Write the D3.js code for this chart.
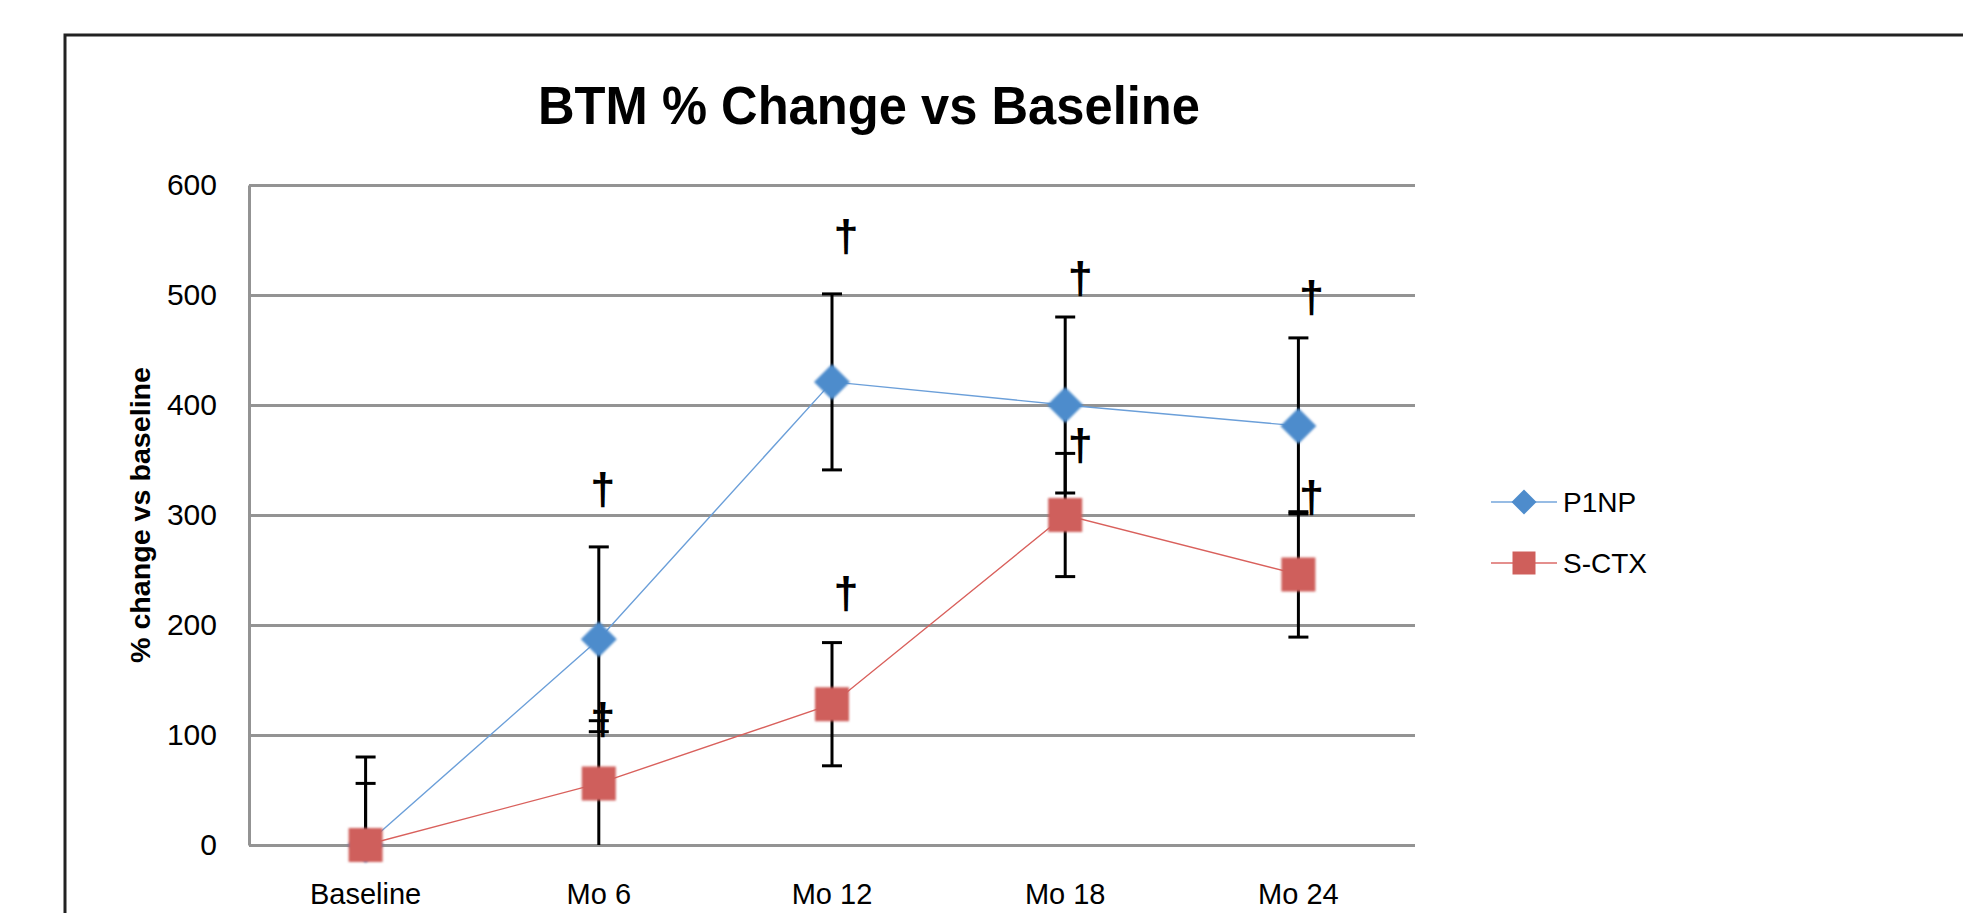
<!DOCTYPE html>
<html>
<head>
<meta charset="utf-8">
<script src="https://cdn.jsdelivr.net/npm/d3@7"></script>
<style>
    body { margin: 0; background: #fff; }
    text { font-family: "Liberation Sans", Arial, sans-serif; fill: #000; }
</style>
</head>
<body>
<div class="chart"></div>
<script>
// categories and series
const categories = ["Baseline", "Mo 6", "Mo 12", "Mo 18", "Mo 24"];
const p1np = [0, 187, 421, 400, 381];
const p1npErr = [80, 84, 80, 80, 80];
const sctx = [0, 56, 128, 300, 246];
const sctxErr = [56, 57, 56, 56, 57];
const yTicks = [0, 100, 200, 300, 400, 500, 600];

// dagger marks (significance), value where the mark sits
const p1npDagger = [null, 322, 552, 514, 497];
const sctxDagger = [null, 113, 228, 362, 315];

const width = 1963;
const height = 913;
const plotLeft = 249, plotRight = 1415, plotTop = 185, plotBottom = 845;
const daggerDx = [0, 4, 14, 15, 13];

const svg = d3.select('.chart')
    .append('svg')
    .attr('width', width)
    .attr('height', height);

const defs = svg.append('defs');
defs.append('filter')
    .attr('id', 'soft')
    .attr('x', '-30%').attr('y', '-30%')
    .attr('width', '160%').attr('height', '160%')
    .append('feGaussianBlur')
    .attr('stdDeviation', 1.1);

// outer frame (runs off the right and bottom edge)
svg.append('rect')
    .attr('x', 65)
    .attr('y', 35)
    .attr('width', 2000)
    .attr('height', 1000)
    .attr('fill', 'none')
    .attr('stroke', '#222')
    .attr('stroke-width', 3);

svg.append('text')
    .attr('x', 869)
    .attr('y', 124)
    .attr('text-anchor', 'middle')
    .attr('font-size', '53px')
    .attr('font-weight', 'bold')
    .attr('textLength', 662)
    .attr('lengthAdjust', 'spacingAndGlyphs')
    .text('BTM % Change vs Baseline');

const x = d3.scaleBand().domain(categories).range([plotLeft, plotRight]);
const y = d3.scaleLinear().domain([0, 600]).range([plotBottom, plotTop]);
const cx = c => x(c) + x.bandwidth() / 2;

// y axis with gridlines
const yAxis = svg.append('g')
    .attr('transform', `translate(${plotLeft},0)`)
    .call(d3.axisLeft(y)
        .tickValues(yTicks)
        .tickSizeInner(-(plotRight - plotLeft))
        .tickSizeOuter(0)
        .tickPadding(32));
yAxis.select('.domain').attr('stroke', '#939393').attr('stroke-width', 3);
yAxis.selectAll('.tick line').attr('stroke', '#939393').attr('stroke-width', 3);
yAxis.selectAll('.tick text')
    .attr('font-size', '30px')
    .attr('font-family', '"Liberation Sans", Arial, sans-serif')
    .attr('fill', '#000');

// x axis labels
const xAxis = svg.append('g')
    .attr('transform', `translate(0,${plotBottom})`)
    .call(d3.axisBottom(x).tickSize(0).tickPadding(38));
xAxis.select('.domain').remove();
xAxis.selectAll('.tick text')
    .attr('font-size', '29px')
    .attr('font-family', '"Liberation Sans", Arial, sans-serif')
    .attr('fill', '#000');

svg.append('text')
    .attr('transform', 'translate(150,515) rotate(-90)')
    .attr('text-anchor', 'middle')
    .attr('font-size', '27px')
    .attr('font-weight', 'bold')
    .attr('textLength', 296)
    .attr('lengthAdjust', 'spacingAndGlyphs')
    .text('% change vs baseline');

const series = [
    { name: 'P1NP', values: p1np, errs: p1npErr, daggers: p1npDagger, line: '#6b9fd9', fill: '#4e8ccc', shape: 'diamond' },
    { name: 'S-CTX', values: sctx, errs: sctxErr, daggers: sctxDagger, line: '#d9605c', fill: '#cf5f5b', shape: 'square' }
];

const markerPath = (shape, s) => {
    if (shape === 'diamond') return `M0,${-s / 2}L${s / 2},0L0,${s / 2}L${-s / 2},0Z`;
    return `M${-s / 2},${-s / 2}h${s}v${s}h${-s}Z`;
};

series.forEach(function (ser) {
    const pts = categories.map((c, i) => ({ c: c, v: ser.values[i], e: ser.errs[i], i: i }));
    const g = svg.append('g');

    g.append('path')
        .datum(pts)
        .attr('fill', 'none')
        .attr('stroke', ser.line)
        .attr('stroke-width', 1.4)
        .attr('d', d3.line().x(d => cx(d.c)).y(d => y(d.v)));

    // error bars, clipped at the 0 line
    const eb = g.selectAll('.err')
        .data(pts)
        .enter()
        .append('g');
    eb.append('line')
        .attr('x1', d => cx(d.c)).attr('x2', d => cx(d.c))
        .attr('y1', d => y(Math.max(0, d.v - d.e)))
        .attr('y2', d => y(d.v + d.e))
        .attr('stroke', '#000').attr('stroke-width', 3);
    eb.append('line')
        .attr('x1', d => cx(d.c) - 10).attr('x2', d => cx(d.c) + 10)
        .attr('y1', d => y(d.v + d.e)).attr('y2', d => y(d.v + d.e))
        .attr('stroke', '#000').attr('stroke-width', 3);
    eb.filter(d => d.v - d.e > 0)
        .append('line')
        .attr('x1', d => cx(d.c) - 10).attr('x2', d => cx(d.c) + 10)
        .attr('y1', d => y(d.v - d.e)).attr('y2', d => y(d.v - d.e))
        .attr('stroke', '#000').attr('stroke-width', 3);

    g.selectAll('.mark')
        .data(pts)
        .enter()
        .append('path')
        .attr('transform', d => `translate(${cx(d.c)},${y(d.v)})`)
        .attr('d', markerPath(ser.shape, ser.shape === 'diamond' ? 36 : 34))
        .attr('fill', ser.fill)
        .attr('filter', 'url(#soft)');

    g.selectAll('.dagger')
        .data(pts.filter(d => ser.daggers[d.i] != null))
        .enter()
        .append('text')
        .attr('x', d => cx(d.c) + daggerDx[d.i])
        .attr('y', d => y(ser.daggers[d.i]))
        .attr('dy', '0.3em')
        .attr('text-anchor', 'middle')
        .attr('font-size', '45px')
        .attr('font-weight', 'bold')
        .text('\u2020');
});

// legend
const legend = svg.selectAll('.legend')
    .data(series)
    .enter()
    .append('g')
    .attr('transform', (d, i) => `translate(1491,${502 + i * 61})`);
legend.append('line')
    .attr('x1', 0).attr('x2', 66)
    .attr('stroke', d => d.line)
    .attr('stroke-width', 2)
    .attr('stroke-opacity', 0.7);
legend.append('path')
    .attr('transform', 'translate(33,0)')
    .attr('d', d => markerPath(d.shape, d.shape === 'diamond' ? 25 : 23))
    .attr('fill', d => d.fill);
legend.append('text')
    .attr('x', 72)
    .attr('dy', '0.36em')
    .attr('font-size', '28px')
    .text(d => d.name);
</script>
</body>
</html>
